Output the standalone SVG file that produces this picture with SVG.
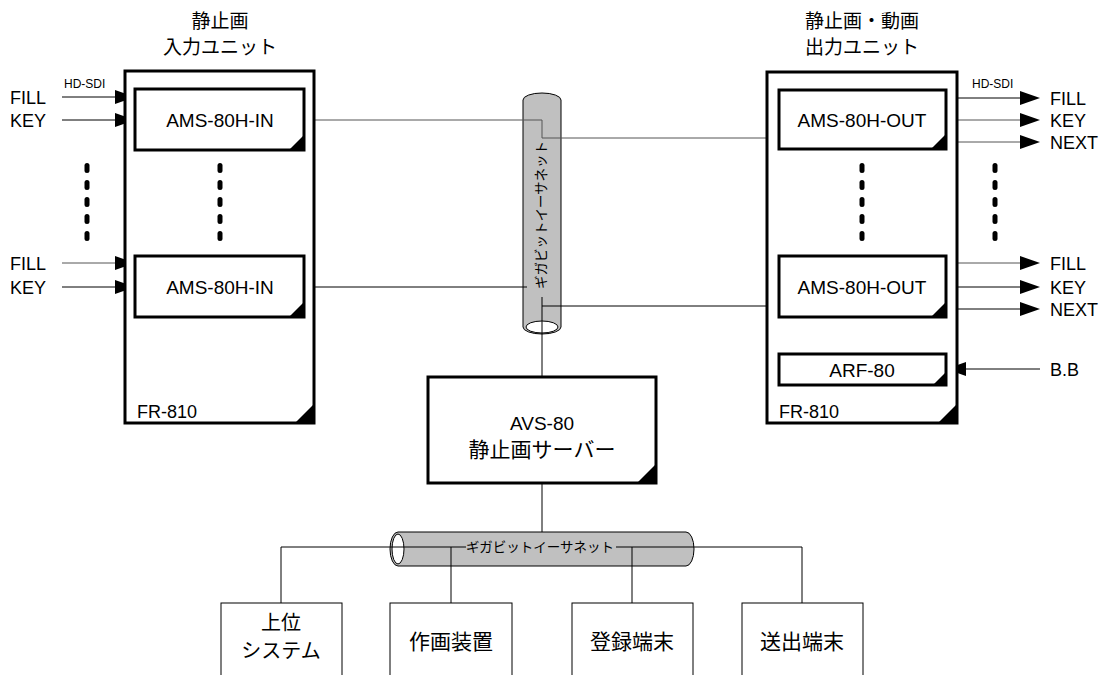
<svg xmlns="http://www.w3.org/2000/svg" width="1102" height="675" viewBox="0 0 1102 675">
<style>
.box{fill:#fff;stroke:#000;stroke-width:3}
.thin{fill:#fff;stroke:#000;stroke-width:1}
.ln{fill:none;stroke:#000;stroke-width:1}
.lg{fill:none;stroke:#555;stroke-width:1}
.tri{fill:#000}
.jp{font-family:"Noto Sans CJK JP","Noto Sans",sans-serif;font-size:19px;fill:#000}
.jpl{font-family:"Noto Sans CJK JP","Noto Sans",sans-serif;font-size:21px;fill:#000}
.jpm{font-family:"Noto Sans CJK JP","Noto Sans",sans-serif;font-size:20px;fill:#000}
.jps{font-family:"Noto Sans CJK JP","Noto Sans",sans-serif;font-size:13.5px;fill:#000}
.en{font-family:"Liberation Sans",Arial,sans-serif;font-size:18px;fill:#000}
.lab{font-family:"Liberation Sans",Arial,sans-serif;font-size:19px;fill:#000}
.sm{font-family:"Liberation Sans",Arial,sans-serif;font-size:12px;fill:#000}
.cyl{fill:#c0c0c0;stroke:#000;stroke-width:1}
</style>
<defs>
<path id="ar" d="M-20,-7 L0,0 L-20,7 Z" fill="#000"/>
<g id="dots"><rect x="-2.5" y="-5" width="5" height="10" rx="2.5"/><rect x="-2.5" y="12" width="5" height="10" rx="2.5"/><rect x="-2.5" y="29" width="5" height="10" rx="2.5"/><rect x="-2.5" y="46" width="5" height="10" rx="2.5"/><rect x="-2.5" y="63" width="5" height="10" rx="2.5"/></g>
</defs>

<g id="network-vertical">
<path class="cyl" d="M523,100 A19,7 0 0 1 561,100 L561,327 A19,7 0 0 1 523,327 Z"/>
<ellipse cx="542" cy="327" rx="16" ry="6" fill="#fff" stroke="#000" stroke-width="1"/>
<text class="jps" transform="translate(546,215) rotate(-90)" text-anchor="middle">ギガビットイーサネット</text>
</g>

<g id="network-horizontal">
<path class="cyl" d="M398,532 L686,532 A8,17 0 0 1 686,566 L398,566 A8,17 0 0 1 398,532 Z"/>
<ellipse cx="398" cy="549" rx="6" ry="15" fill="#fff" stroke="#000" stroke-width="1"/>
<text class="jps" x="540" y="552" text-anchor="middle">ギガビットイーサネット</text>
</g>

<g id="connectors">
<path class="lg" d="M304,120 L542,120 L542,138 L779,138"/>
<path class="ln" d="M304,287 L527,287"/>
<path class="ln" d="M542,297 L542,377"/>
<path class="ln" d="M542,306 L779,306"/>
<path class="ln" d="M542,483 L542,532"/>
<path class="ln" d="M281,603 L281,547 L466,547"/>
<path class="ln" d="M616,547 L802,547 L802,603"/>
<path class="ln" d="M451,547 L451,603"/>
<path class="ln" d="M632,547 L632,603"/>
<path class="ln" d="M62,97 L120,97"/><use href="#ar" x="135" y="97"/>
<path class="ln" d="M62,120 L120,120"/><use href="#ar" x="135" y="120"/>
<path class="lg" d="M62,263 L120,263"/><use href="#ar" x="135" y="263"/>
<path class="ln" d="M62,287 L120,287"/><use href="#ar" x="135" y="287"/>
<path class="ln" d="M946,98 L1025,98"/><use href="#ar" x="1040" y="98"/>
<path class="lg" d="M946,120 L1025,120"/><use href="#ar" x="1040" y="120"/>
<path class="lg" d="M946,142 L1025,142"/><use href="#ar" x="1040" y="142"/>
<path class="lg" d="M946,263 L1025,263"/><use href="#ar" x="1040" y="263"/>
<path class="ln" d="M946,287 L1025,287"/><use href="#ar" x="1040" y="287"/>
<path class="ln" d="M946,309 L1025,309"/><use href="#ar" x="1040" y="309"/>
<path class="ln" d="M1040,369 L960,369"/><use href="#ar" transform="translate(946,369) rotate(180)"/>
</g>

<g id="labels">
<text class="en" x="10" y="104">FILL</text>
<text class="en" x="10" y="127">KEY</text>
<text class="en" x="10" y="270">FILL</text>
<text class="en" x="10" y="294">KEY</text>
<text class="sm" x="64" y="88">HD-SDI</text>
<text class="sm" x="972" y="88">HD-SDI</text>
<text class="en" x="1050" y="105">FILL</text>
<text class="en" x="1050" y="127">KEY</text>
<text class="en" x="1050" y="149">NEXT</text>
<text class="en" x="1050" y="270">FILL</text>
<text class="en" x="1050" y="294">KEY</text>
<text class="en" x="1050" y="316">NEXT</text>
<text class="en" x="1050" y="376">B.B</text>
</g>

<g id="fr810-in">
<text class="jp" x="220" y="28" text-anchor="middle">静止画</text>
<text class="jp" x="220" y="54" text-anchor="middle">入力ユニット</text>
<rect class="box" x="125" y="71" width="189" height="352"/>
<path class="tri" d="M314,404 L314,423 L295,423 Z"/>
<text class="en" x="137" y="418">FR-810</text>
</g>

<g id="ams-in-1">
<rect class="box" x="135" y="89" width="169" height="61"/>
<path class="tri" d="M304,135 L304,150 L289,150 Z"/>
<text class="lab" x="220" y="127" text-anchor="middle">AMS-80H-IN</text>
</g>

<g id="ams-in-2">
<rect class="box" x="135" y="256" width="169" height="61"/>
<path class="tri" d="M304,302 L304,317 L289,317 Z"/>
<text class="lab" x="220" y="294" text-anchor="middle">AMS-80H-IN</text>
</g>

<g id="fr810-out">
<text class="jp" x="862" y="28" text-anchor="middle">静止画・動画</text>
<text class="jp" x="862" y="54" text-anchor="middle">出力ユニット</text>
<rect class="box" x="767" y="72" width="190" height="351"/>
<path class="tri" d="M957,404 L957,423 L938,423 Z"/>
<text class="en" x="779" y="418">FR-810</text>
</g>

<g id="ams-out-1">
<rect class="box" x="779" y="90" width="167" height="59"/>
<path class="tri" d="M946,134 L946,149 L931,149 Z"/>
<text class="lab" x="862" y="127" text-anchor="middle">AMS-80H-OUT</text>
</g>

<g id="ams-out-2">
<rect class="box" x="779" y="256" width="167" height="61"/>
<path class="tri" d="M946,302 L946,317 L931,317 Z"/>
<text class="lab" x="862" y="294" text-anchor="middle">AMS-80H-OUT</text>
</g>

<g id="arf-80">
<rect class="box" x="779" y="354" width="167" height="31"/>
<path class="tri" d="M946,372 L946,385 L933,385 Z"/>
<text class="lab" x="862" y="377" text-anchor="middle">ARF-80</text>
</g>

<g id="dots-columns">
<use href="#dots" x="87" y="168"/>
<use href="#dots" x="220" y="168"/>
<use href="#dots" x="862" y="168"/>
<use href="#dots" x="995" y="168"/>
</g>

<g id="avs-80">
<rect class="box" x="428" y="377" width="228" height="106"/>
<path class="tri" d="M656,464 L656,483 L637,483 Z"/>
<text class="lab" x="542" y="430" text-anchor="middle">AVS-80</text>
<text class="jpl" x="542" y="457" text-anchor="middle">静止画サーバー</text>
</g>

<g id="upper-system">
<rect class="thin" x="221" y="603" width="121" height="80"/>
<text class="jpm" x="281" y="630" text-anchor="middle">上位</text>
<text class="jpm" x="281" y="658" text-anchor="middle">システム</text>
</g>
<g id="drawing-device">
<rect class="thin" x="390" y="603" width="122" height="80"/>
<text class="jpl" x="451" y="649" text-anchor="middle">作画装置</text>
</g>
<g id="registration-terminal">
<rect class="thin" x="572" y="603" width="121" height="80"/>
<text class="jpl" x="632" y="649" text-anchor="middle">登録端末</text>
</g>
<g id="output-terminal">
<rect class="thin" x="742" y="603" width="121" height="80"/>
<text class="jpl" x="802" y="649" text-anchor="middle">送出端末</text>
</g>
</svg>
